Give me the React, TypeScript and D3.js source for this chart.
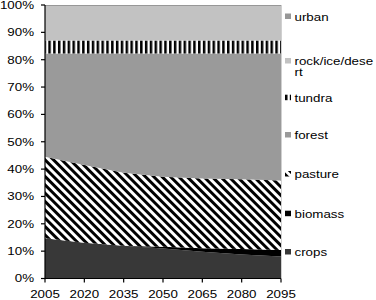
import React from 'react';
import * as d3 from 'd3';

// land use share (%) by year
const years = [2005, 2020, 2035, 2050, 2065, 2080, 2095];
const crops = [14.7, 13.1, 12.0, 11.0, 9.8, 8.8, 8.0];
const biomass = [0, 0, 0, 0.6, 1.3, 2.0, 2.4];
const pasture = [29.8, 28.4, 26.7, 25.6, 25.5, 25.5, 25.4];
const forest = [37.8, 40.8, 43.6, 45.1, 45.7, 46.0, 46.5];
const tundra = [4.7, 4.7, 4.7, 4.7, 4.7, 4.7, 4.7];
const rock = [12.6, 12.6, 12.6, 12.6, 12.6, 12.6, 12.6];
const urban = [0.4, 0.4, 0.4, 0.4, 0.4, 0.4, 0.4];

const keys = ['crops', 'biomass', 'pasture', 'forest', 'tundra', 'rock', 'urban'];
const labels: Record<string, string[]> = {
  crops: ['crops'],
  biomass: ['biomass'],
  pasture: ['pasture'],
  forest: ['forest'],
  tundra: ['tundra'],
  rock: ['rock/ice/dese', 'rt'],
  urban: ['urban'],
};
const yTicks = [0, 10, 20, 30, 40, 50, 60, 70, 80, 90, 100];

const fills: Record<string, string> = {
  crops: '#383838',
  biomass: '#000000',
  pasture: 'url(#pat-pasture)',
  forest: '#9a9a9a',
  tundra: 'url(#pat-tundra)',
  rock: '#c2c2c2',
  urban: '#979797',
};

const FONT = '"Liberation Sans", Arial, sans-serif';
const SX = 1.27; // the reference text is stretched sideways

const App: React.FC = () => {
  const width = 376;
  const height = 300;
  const margin = { left: 45, right: 95, top: 5, bottom: 21.5 };

  const rows = years.map((yr, i) => ({
    year: yr,
    crops: crops[i],
    biomass: biomass[i],
    pasture: pasture[i],
    forest: forest[i],
    tundra: tundra[i],
    rock: rock[i],
    urban: urban[i],
  }));

  const x = d3.scaleLinear()
    .domain([years[0], years[years.length - 1]])
    .range([margin.left, width - margin.right]);
  const y = d3.scaleLinear()
    .domain([0, 100])
    .range([height - margin.bottom, margin.top]);

  const series = d3.stack<any>().keys(keys)(rows);
  const area = d3.area<any>()
    .x(d => x(d.data.year))
    .y0(d => y(d[0]))
    .y1(d => y(d[1]));

  // legend baselines, top entry first (layout only)
  const legendBase: Record<string, number> = {
    urban: 20.5, rock: 65, tundra: 101.7, forest: 139,
    pasture: 178, biomass: 217.7, crops: 256,
  };

  return (
    <svg width={width} height={height} style={{ position: 'absolute', left: 0, top: 0, background: '#fff' }}>
      <defs>
        <pattern id="pat-pasture" patternUnits="userSpaceOnUse" width={5.9} height={5.9} patternTransform="rotate(-45)">
          <rect width={5.9} height={5.9} fill="#fff" />
          <rect width={2.95} height={5.9} fill="#000" />
        </pattern>
        <pattern id="pat-tundra" patternUnits="userSpaceOnUse" width={4.83} height={10}>
          <rect width={4.83} height={10} fill="#fff" />
          <rect width={2.5} height={10} fill="#000" />
        </pattern>
      </defs>

      {series.map(s => (
        <path key={s.key} d={area(s) || ''} fill={fills[s.key]} />
      ))}

      {/* plot right border */}
      <line x1={x.range()[1] + 0.5} x2={x.range()[1] + 0.5} y1={y(100)} y2={y(0)} stroke="#d0d0d0" />

      {/* y axis */}
      <line x1={margin.left} x2={margin.left} y1={y(100)} y2={y(0)} stroke="#000" strokeWidth={1.2} />
      {yTicks.map(t => (
        <g key={t}>
          <line x1={margin.left - 4} x2={margin.left} y1={y(t)} y2={y(t)} stroke="#000" strokeWidth={1.2} />
          <text
            transform={`translate(34,${y(t) + 3.8}) scale(${SX},1)`}
            textAnchor="end"
            fontFamily={FONT}
            fontSize={10.5}
            fill="#000"
          >{t}%</text>
        </g>
      ))}

      {/* x axis */}
      <line x1={margin.left} x2={x.range()[1]} y1={y(0)} y2={y(0)} stroke="#000" strokeWidth={1.2} />
      {years.map(yr => (
        <g key={yr}>
          <line x1={x(yr)} x2={x(yr)} y1={y(0)} y2={y(0) + 4} stroke="#000" strokeWidth={1.2} />
          <text
            transform={`translate(${x(yr)},297.5) scale(${SX},1)`}
            textAnchor="middle"
            fontFamily={FONT}
            fontSize={10.5}
            fill="#000"
          >{yr}</text>
        </g>
      ))}

      {/* legend */}
      {keys.map(k => {
        const b = legendBase[k];
        return (
          <g key={k}>
            <rect x={285} y={b - 7} width={6} height={5.5} fill={fills[k]} />
            {labels[k].map((line, j) => (
              <text
                key={j}
                transform={`translate(294.5,${b + j * 11}) scale(${SX},1)`}
                fontFamily={FONT}
                fontSize={10.5}
                fill="#000"
              >{line}</text>
            ))}
          </g>
        );
      })}
    </svg>
  );
};

export default App;
